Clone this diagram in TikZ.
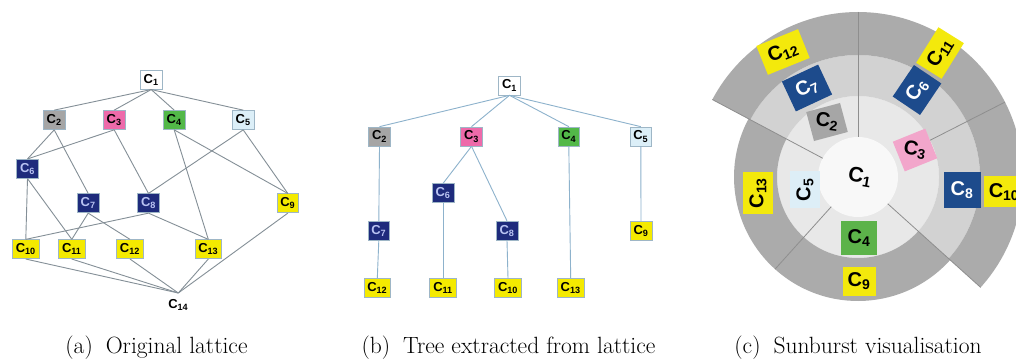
\documentclass[tikz,border=0pt]{standalone}
\usepackage{fontspec}
\usepackage{graphicx}
\newfontfamily\lab{Liberation Sans}
\usetikzlibrary{calc}
\definecolor{bcol}{HTML}{9EB6C6}
\definecolor{edgeA}{HTML}{848F97}
\definecolor{edgeB}{HTML}{8DB2CC}
\definecolor{grayA}{HTML}{A5A5A5}
\definecolor{pinkA}{HTML}{EE6AAA}
\definecolor{greenA}{HTML}{52B848}
\definecolor{lblueA}{HTML}{DCEFF8}
\definecolor{navyA}{HTML}{1E2B7C}
\definecolor{navytxt}{HTML}{B9C3F2}
\definecolor{yellA}{HTML}{F4EA00}
\definecolor{navyC}{HTML}{1D4B8C}
\definecolor{pinkC}{HTML}{F2A6CB}
\definecolor{greenC}{HTML}{5CB34A}
\definecolor{lblueC}{HTML}{DDEEF7}
\definecolor{grayC}{HTML}{A6A6A6}
\definecolor{yellC}{HTML}{F3E90C}
\definecolor{ringA}{HTML}{E8E8E8}
\definecolor{ringB}{HTML}{D2D2D2}
\definecolor{ringC}{HTML}{ABABAB}
\definecolor{ctr}{HTML}{F8F8F8}
\definecolor{divc}{HTML}{8E8E8E}
\newcommand{\sect}[5]{\fill[#1] ($(O)+(#2:#4pt)$) arc[start angle=#2, end angle=#3, radius=#4pt] -- ($(O)+(#3:#5pt)$) arc[start angle=#3, end angle=#2, radius=#5pt] -- cycle;}
\newcommand{\divline}[3]{\draw[divc, line width=0.8pt] ($(O)+(#1:#2pt)$) -- ($(O)+(#1:#3pt)$);}
\tikzset{
  lbox/.style={draw=bcol, line width=0.7pt, minimum width=21.7pt, minimum height=19pt, inner sep=0pt,
    font=\fontsize{13}{14}\selectfont\lab\bfseries},
  wbox/.style={lbox, minimum width=26.5pt},
  gA/.style={fill=grayA}, pA/.style={fill=pinkA}, grA/.style={fill=greenA}, lbA/.style={fill=lblueA},
  nA/.style={fill=navyA, text=navytxt}, yA/.style={fill=yellA},
  wA/.style={fill=white},
  ea/.style={edgeA, line width=0.9pt},
  eb/.style={edgeB, line width=0.9pt},
  sbox/.style={inner sep=0pt, minimum width=34pt, minimum height=31pt,
    font=\fontsize{20}{22}\selectfont\lab\bfseries},
  captext/.style={anchor=base, font=\fontsize{23.5}{27}\selectfont, inner sep=0pt}
}
\begin{document}
\begin{tikzpicture}[x=1pt,y=1pt]
\useasboundingbox (0,0) rectangle (1016,-363);
\fill[white] (0,0) rectangle (1016,-363);

% ---------- (a) original lattice ----------
\node[lbox,wA]  (a1) at (151.2,-79.7) {C\textsubscript{1}};
\node[lbox,gA]  (a2) at (54.2,-120) {C\textsubscript{2}};
\node[lbox,pA]  (a3) at (114.2,-120) {C\textsubscript{3}};
\node[lbox,grA] (a4) at (174.2,-120) {C\textsubscript{4}};
\node[lbox,lbA] (a5) at (243.2,-120) {C\textsubscript{5}};
\node[lbox,nA]  (a6) at (27.5,-168.8) {C\textsubscript{6}};
\node[lbox,nA]  (a7) at (88.2,-203.3) {C\textsubscript{7}};
\node[lbox,nA]  (a8) at (148.5,-203.3) {C\textsubscript{8}};
\node[lbox,yA]  (a9) at (287.8,-203.3) {C\textsubscript{9}};
\node[wbox,yA]  (a10) at (25.8,-249.2) {C\textsubscript{10}};
\node[wbox,yA]  (a11) at (71.8,-249.2) {C\textsubscript{11}};
\node[wbox,yA]  (a12) at (130,-249.2) {C\textsubscript{12}};
\node[wbox,yA]  (a13) at (208.3,-249.2) {C\textsubscript{13}};
\node[inner xsep=1pt, inner ysep=6pt, anchor=north, font=\fontsize{13}{14}\selectfont\lab\bfseries] (a14) at (178.3,-293) {C\textsubscript{14}};
\foreach \p/\c in {a1/a2,a1/a3,a1/a4,a1/a5,a2/a6,a2/a7,a3/a6,a3/a8,a4/a9,a4/a13,a5/a8,a5/a9,a6/a10,a6/a11,a7/a11,a7/a12,a8/a10,a8/a13}
  \draw[ea] (\p.south) -- (\c.north);
\foreach \p in {a10,a11,a12,a13,a9}
  \draw[ea] (\p.south) -- (a14.north);

% ---------- (b) tree ----------
\node[lbox,wA]  (b1) at (509.5,-85.5) {C\textsubscript{1}};
\node[lbox,gA]  (b2) at (379.5,-136.5) {C\textsubscript{2}};
\node[lbox,pA]  (b3) at (471.5,-136.5) {C\textsubscript{3}};
\node[lbox,grA] (b4) at (568.8,-136.5) {C\textsubscript{4}};
\node[lbox,lbA] (b5) at (640.8,-136.5) {C\textsubscript{5}};
\node[lbox,nA]  (b6) at (443,-193.3) {C\textsubscript{6}};
\node[lbox,nA]  (b7) at (378.8,-230.7) {C\textsubscript{7}};
\node[lbox,nA]  (b8) at (507,-230.7) {C\textsubscript{8}};
\node[lbox,yA]  (b9) at (641,-230.7) {C\textsubscript{9}};
\node[wbox,yA]  (b12) at (377.3,-288.3) {C\textsubscript{12}};
\node[wbox,yA]  (b11) at (443,-288.3) {C\textsubscript{11}};
\node[wbox,yA]  (b10) at (508,-288.3) {C\textsubscript{10}};
\node[wbox,yA]  (b13) at (570.7,-288.3) {C\textsubscript{13}};
\foreach \p/\c in {b1/b2,b1/b3,b1/b4,b1/b5,b2/b7,b3/b6,b3/b8,b4/b13,b5/b9,b7/b12,b6/b11,b8/b10}
  \draw[eb] (\p.south) -- (\c.north);

% ---------- (c) sunburst ----------
\coordinate (O) at (858,-177);
\fill[ringA] (O) circle[radius=81pt];
\sect{ringB}{90}{152}{81}{122}
\sect{ringB}{27}{90}{81}{122}
\sect{ringB}{-42}{27}{81}{122}
\sect{ringC}{152}{228}{81}{124}
\sect{ringC}{228}{318}{81}{124}
\sect{ringC}{90}{152}{122}{165}
\sect{ringC}{27}{90}{122}{165}
\sect{ringC}{-42}{27}{122}{165}
\fill[ctr] (O) circle[radius=40pt];
\divline{90}{40}{165}
\divline{152}{40}{165}
\divline{-42}{40}{165}
\divline{228}{40}{124}
\divline{27}{81}{165}

\node[sbox, font=\fontsize{21}{22}\selectfont\lab\bfseries, rotate=-10] (s1) at (860,-177) {C\textsubscript{1}};
\node[sbox, fill=grayC, rotate=15, minimum width=35pt, minimum height=30pt] (s2) at (827,-122) {\rotatebox{-22}{C\textsubscript{2}}};
\node[sbox, fill=pinkC, rotate=22, minimum width=35pt, minimum height=32pt] (s3) at (915,-150) {\rotatebox{-32}{C\textsubscript{3}}};
\node[sbox, fill=greenC, minimum width=36pt, minimum height=33pt] (s4) at (859,-238) {C\textsubscript{4}};
\node[sbox, fill=lblueC, rotate=90, minimum width=37pt, minimum height=30pt] (s5) at (805,-190) {C\textsubscript{5}};
\node[sbox, fill=navyC, text=white, rotate=56, minimum width=38pt, minimum height=33pt] (s6) at (917,-90) {C\textsubscript{6}};
\node[sbox, fill=navyC, text=white, rotate=25, minimum width=40pt, minimum height=33pt] (s7) at (807,-88) {C\textsubscript{7}};
\node[sbox, fill=navyC, text=white, minimum width=37pt, minimum height=36pt] (s8) at (962,-190) {C\textsubscript{8}};
\node[sbox, fill=yellC, minimum width=33pt, minimum height=29pt] (s9) at (859,-281) {C\textsubscript{9}};
\node[sbox, fill=yellC, minimum width=40pt, minimum height=31pt] (s10) at (1004,-192) {C\textsubscript{10}};
\node[sbox, fill=yellC, rotate=58, minimum width=42pt, minimum height=30pt] (s11) at (940,-53) {C\textsubscript{11}};
\node[sbox, fill=yellC, rotate=22, minimum width=45pt, minimum height=31pt] (s12) at (783,-52) {C\textsubscript{12}};
\node[sbox, fill=yellC, rotate=90, minimum width=42pt, minimum height=30pt] (s13) at (758,-193) {C\textsubscript{13}};

% ---------- captions ----------
\node[captext] (capa) at (156.5,-353) {(a)\hspace{0.55em}Original lattice};
\node[captext] (capb) at (508.5,-353) {(b)\hspace{0.55em}Tree extracted from lattice};
\node[captext] (capc) at (858,-353) {(c)\hspace{0.55em}Sunburst visualisation};
\end{tikzpicture}
\end{document}
